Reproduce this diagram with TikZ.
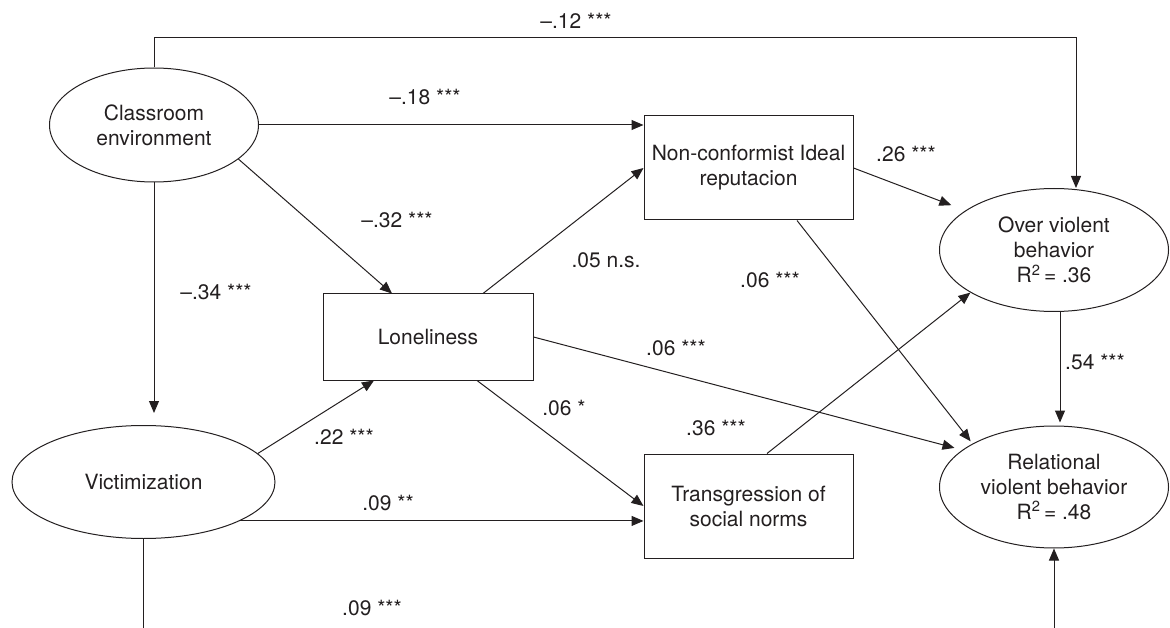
\documentclass[tikz,border=0pt]{standalone}
\usepackage{fontspec}
\setmainfont{TeX Gyre Heros}
\usetikzlibrary{arrows.meta,shapes.geometric,calc}
\definecolor{ink}{HTML}{231F20}
\begin{document}
\begin{tikzpicture}[x=1pt,y=-1pt,
  every node/.style={font=\fontsize{21}{25}\selectfont, text=ink},
  ell/.style={draw=ink, ellipse, inner sep=-8pt, align=center},
  box/.style={draw=ink, rectangle, inner sep=0pt, align=center},
  arr/.style={draw=ink, -{Triangle[length=12pt,width=10pt]}},
  conn/.style={draw=ink},
  lbl/.style={inner sep=0pt},
  line width=1pt]
\useasboundingbox (0,0) rectangle (1170,628);

% nodes
\node[ell, minimum width=209pt, minimum height=114pt] (CE) at (154,125) {Classroom\\environment};
\node[ell, minimum width=263pt, minimum height=113pt] (VI) at (143.5,482) {Victimization};
\node[box, minimum width=210pt, minimum height=86pt] (LO) at (428,337) {Loneliness};
\node[box, minimum width=209pt, minimum height=104pt] (NC) at (748.5,168) {Non-conformist Ideal\\reputacion};
\node[box, minimum width=209pt, minimum height=104pt] (TS) at (748.5,506) {Transgression of\\social norms};
\node[ell, minimum width=229pt, minimum height=123pt] (OV) at (1054,250) {Over violent\\behavior\\R\textsuperscript{2}\,= .36};
\node[ell, minimum width=229pt, minimum height=122pt] (RV) at (1054,487) {Relational\\violent behavior\\R\textsuperscript{2}\,= .48};

\coordinate (topR) at (1076,38);
\coordinate (bot) at (0,630);

% connectors
\draw[arr] (CE.north) |- (topR) -- (OV.north -| topR);
\draw[arr] (CE.east) -- (CE.east -| NC.west);
\draw[arr] (CE.-22) -- ([xshift=-36pt]LO.north);
\draw[arr, shorten >=12pt] (CE.south) -- (CE.south |- VI.north);
\draw[arr] (VI.14) -- ([xshift=-54pt]LO.south);
\draw[arr] (VI.-22.3) -- (VI.-22.3 -| TS.west);
\draw[conn] (VI.south) -- (VI.south |- bot);
\draw[arr] (RV.south |- bot) -- (RV.south);
\draw[arr] ([xshift=55pt]LO.north) -- (NC.west);
\draw[arr] ([xshift=49pt]LO.south) -- (TS.west);
\draw[arr, shorten >=8pt] (LO.east) -- (RV.158);
\draw[arr, shorten >=15pt] (NC.east) -- (OV.156);
\draw[arr, shorten >=3pt] ([xshift=48.5pt]NC.south) -- (RV.152);
\draw[arr] ([xshift=18.5pt]TS.north) -- (OV.207);
\draw[arr, shorten >=3pt] ([xshift=6pt]OV.south) -- ([xshift=6pt]RV.north);

% labels
\node[lbl] (l12) at (576,21) {\textendash.12 ***};
\node[lbl] (l18) at (425,97) {\textendash.18 ***};
\node[lbl] (l32) at (397,220) {\textendash.32 ***};
\node[lbl] (l34) at (216,292) {\textendash.34 ***};
\node[lbl] (l05) at (606,260) {.05 n.s.};
\node[lbl] (l06a) at (770,280) {.06 ***};
\node[lbl] (l26) at (906,154) {.26 ***};
\node[lbl] (l22) at (344,437) {.22 ***};
\node[lbl] (l09a) at (388,503) {.09 **};
\node[lbl] (l06b) at (564,408) {.06 *};
\node[lbl] (l06c) at (676,348) {.06 ***};
\node[lbl] (l36) at (716,428) {.36 ***};
\node[lbl] (l54) at (1095,362) {.54 ***};
\node[lbl] (l09b) at (372,608) {.09 ***};
\end{tikzpicture}
\end{document}
